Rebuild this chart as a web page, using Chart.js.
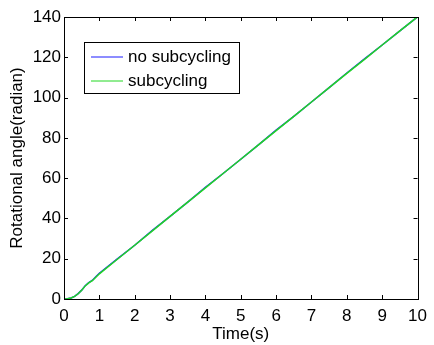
<!DOCTYPE html>
<html>
<head>
<meta charset="utf-8">
<script src="https://cdn.jsdelivr.net/npm/chart.js@4"></script>
<style>
  html, body { margin: 0; padding: 0; background: #fff; }
  #wrap { width: 434px; height: 345px; }
</style>
</head>
<body>
<div id="wrap"><canvas id="angleChart" width="434" height="345"></canvas></div>
<script>
// time (s) and rotational angle (radian)
var times = [0, 0.1, 0.2, 0.3, 0.4, 0.5, 0.6, 0.7, 0.8, 0.9, 1.0, 1.5, 2.0, 2.5, 3.0, 3.5, 4.0, 4.5, 5.0, 5.5, 6.0, 6.5, 7.0, 7.5, 8.0, 8.5, 9.0, 9.5, 10.0];
var noSubcycling = [0, 0.1, 0.5, 1.3, 2.7, 4.4, 6.6, 8.1, 9.2, 11.0, 12.8, 19.8, 26.7, 34.1, 41.0, 48.1, 55.4, 62.3, 69.4, 76.5, 83.8, 90.7, 97.8, 104.9, 112.2, 119.2, 126.1, 133.1, 140.1];
var subcycling = [0, 0.1, 0.5, 1.3, 2.6, 4.3, 6.5, 8.0, 9.1, 10.8, 12.5, 19.6, 26.7, 33.8, 41.0, 48.1, 55.2, 62.3, 69.4, 76.5, 83.6, 90.7, 97.8, 104.9, 112.0, 119.0, 126.1, 133.1, 140.1];
var xTicks = [0, 1, 2, 3, 4, 5, 6, 7, 8, 9, 10];
var yTicks = [0, 20, 40, 60, 80, 100, 120, 140];
var seriesNames = ['no subcycling', 'subcycling'];

var FONT = '"Liberation Sans", Arial, sans-serif';

function toPoints(xs, ys) {
    return xs.map((x, i) => ({ x: x, y: ys[i] }));
}

// matlab style box: inward ticks on all four sides + legend box
var boxPlugin = {
    id: 'boxPlugin',
    afterDraw(chart) {
        var ctx = chart.ctx;
        var a = chart.chartArea;
        var xs = chart.scales.x, ys = chart.scales.y;
        ctx.save();
        ctx.strokeStyle = '#000';
        ctx.lineWidth = 1;
        ctx.beginPath();
        xTicks.forEach(v => {
            var px = Math.round(xs.getPixelForValue(v)) + 0.5;
            ctx.moveTo(px, a.bottom); ctx.lineTo(px, a.bottom - 4);
            ctx.moveTo(px, a.top); ctx.lineTo(px, a.top + 4);
        });
        yTicks.forEach(v => {
            var py = Math.round(ys.getPixelForValue(v)) + 0.5;
            ctx.moveTo(a.left, py); ctx.lineTo(a.left + 4, py);
            ctx.moveTo(a.right, py); ctx.lineTo(a.right - 4, py);
        });
        ctx.stroke();
        ctx.strokeRect(Math.round(a.left) + 0.5, Math.round(a.top) + 0.5,
            Math.round(a.right - a.left), Math.round(a.bottom - a.top));

        // legend
        ctx.fillStyle = '#fff';
        ctx.fillRect(84.5, 42.5, 155, 51);
        ctx.strokeRect(84.5, 42.5, 155, 51);
        var rows = [57, 81];
        chart.data.datasets.forEach((ds, i) => {
            ctx.strokeStyle = ds.borderColor;
            ctx.lineWidth = 1;
            ctx.beginPath();
            ctx.moveTo(91, rows[i]);
            ctx.lineTo(123, rows[i]);
            ctx.stroke();
            ctx.fillStyle = '#000';
            ctx.font = '17px ' + FONT;
            ctx.textBaseline = 'middle';
            ctx.fillText(ds.label, 128, rows[i]);
        });
        ctx.restore();
    }
};

var ctx = document.getElementById('angleChart').getContext('2d');

new Chart(ctx, {
    type: 'line',
    data: {
        datasets: [{
            label: seriesNames[0],
            data: toPoints(times, noSubcycling),
            borderColor: '#1a1aff',
            borderWidth: 1.5,
            pointRadius: 0,
            tension: 0,
            order: 2,
        }, {
            label: seriesNames[1],
            data: toPoints(times, subcycling),
            borderColor: '#22d822',
            borderWidth: 1.5,
            pointRadius: 0,
            tension: 0,
            order: 1,
        }],
    },
    options: {
        responsive: false,
        animation: false,
        events: [],
        layout: {
            padding: { top: 17, right: 13, left: 0, bottom: 0 },
        },
        plugins: {
            legend: { display: false },
            tooltip: { enabled: false },
        },
        scales: {
            x: {
                type: 'linear',
                min: 0,
                max: 10,
                afterFit: function (scale) { scale.height = 46; },
                afterBuildTicks: function (scale) {
                    scale.ticks = xTicks.map(v => ({ value: v }));
                },
                grid: { display: false, drawTicks: false },
                border: { display: false },
                ticks: {
                    color: '#000',
                    padding: 7,
                    maxRotation: 0,
                    font: { family: FONT, size: 17 },
                },
                title: {
                    display: true,
                    text: 'Time(s)',
                    color: '#000',
                    font: { family: FONT, size: 17 },
                    padding: { top: 0, bottom: 0 },
                },
            },
            y: {
                type: 'linear',
                min: 0,
                max: 140,
                afterFit: function (scale) { scale.width = 64; },
                afterBuildTicks: function (scale) {
                    scale.ticks = yTicks.map(v => ({ value: v }));
                },
                grid: { display: false, drawTicks: false },
                border: { display: false },
                ticks: {
                    color: '#000',
                    padding: 3,
                    font: { family: FONT, size: 17 },
                },
                title: {
                    display: true,
                    text: 'Rotational angle(radian)',
                    color: '#000',
                    font: { family: FONT, size: 17 },
                    padding: { top: 7, bottom: 0 },
                },
            },
        },
    },
    plugins: [boxPlugin],
});
</script>
</body>
</html>
